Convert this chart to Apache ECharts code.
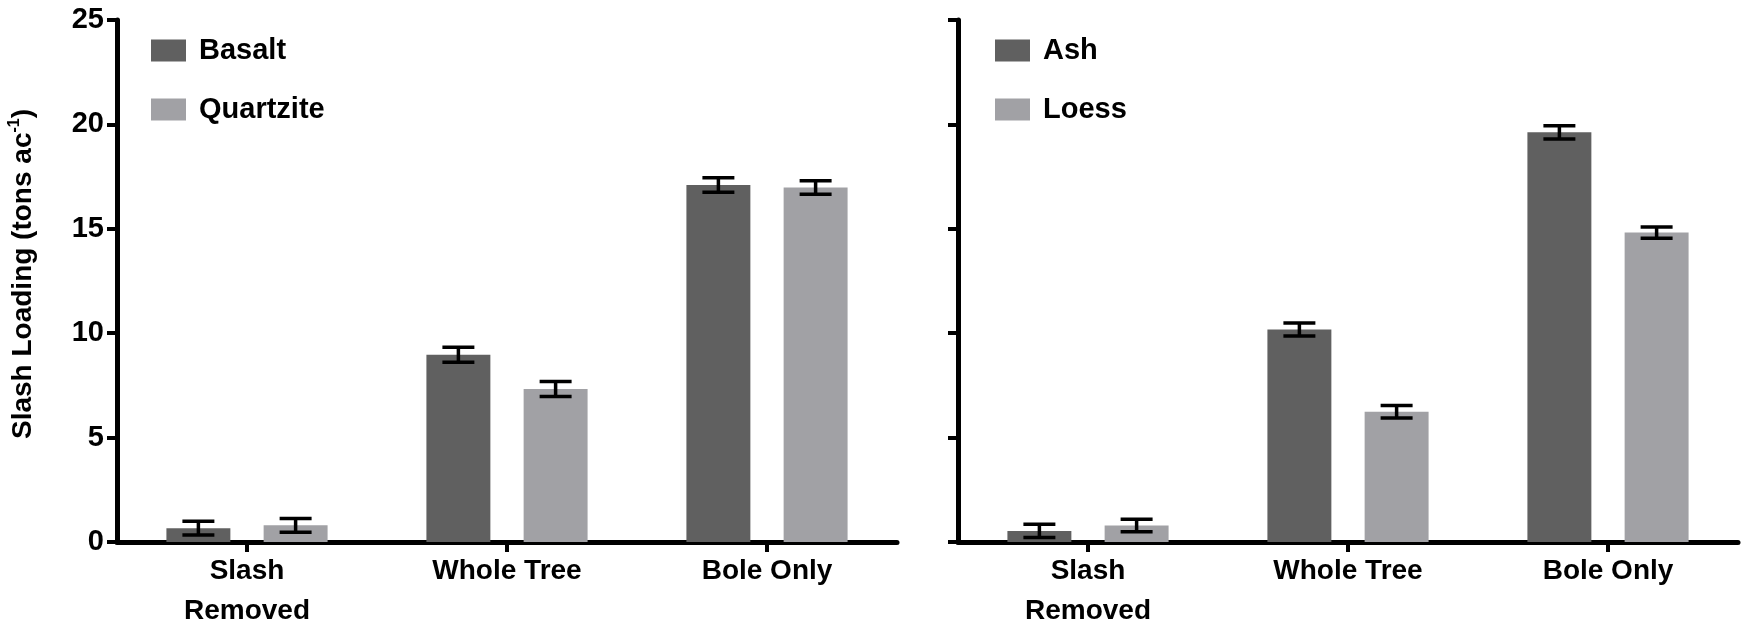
<!DOCTYPE html>
<html>
<head>
<meta charset="utf-8">
<script src="https://cdn.jsdelivr.net/npm/echarts@6/dist/echarts.min.js"></script>
<style>html,body{margin:0;padding:0;background:#fff;}#c{width:1748px;height:624px;}</style>
</head>
<body>
<div id="c"></div>
<script>
// ---- data ----
const categories = ['Slash\nRemoved', 'Whole Tree', 'Bole Only'];
const yTicks = [0, 5, 10, 15, 20, 25];
const basalt = [0.66, 8.97, 17.10];
const basaltErr = [0.33, 0.36, 0.35];
const quartzite = [0.80, 7.33, 16.98];
const quartziteErr = [0.33, 0.36, 0.32];
const ash = [0.53, 10.18, 19.62];
const ashErr = [0.32, 0.31, 0.32];
const loess = [0.79, 6.24, 14.82];
const loessErr = [0.30, 0.30, 0.27];

const DARK = '#606060', LIGHT = '#a1a1a5';
const FONT = 'Liberation Sans, Arial, sans-serif';
const BAR_W = 0.246, BAR_GAP = 0.52;
const OFF = BAR_W * (1 + BAR_GAP) / 2;

function errSeries(name, vals, errs, gi, side) {
  return {
    type: 'custom', name: name + ' err', xAxisIndex: gi, yAxisIndex: gi, z: 5,
    clip: false, silent: true,
    data: vals.map((v, i) => [i, v, errs[i]]),
    renderItem: function (params, api) {
      const c = api.value(0), v = api.value(1), e = api.value(2);
      const t = api.coord([c, v + e]);
      const b = api.coord([c, v - e]);
      const band = api.size([1, 0])[0];
      const x = t[0] + side * band * OFF;
      const hw = band * BAR_W / 4;
      const st = { stroke: '#000', lineWidth: 3.5 };
      return { type: 'group', children: [
        { type: 'line', shape: { x1: x, y1: t[1], x2: x, y2: b[1] }, style: st },
        { type: 'line', shape: { x1: x - hw, y1: t[1], x2: x + hw, y2: t[1] }, style: st },
        { type: 'line', shape: { x1: x - hw, y1: b[1], x2: x + hw, y2: b[1] }, style: st }
      ]};
    }
  };
}

function barSeries(name, vals, color, gi) {
  return {
    type: 'bar', name: name, xAxisIndex: gi, yAxisIndex: gi,
    data: vals, barWidth: (BAR_W * 100) + '%', barGap: (BAR_GAP * 100) + '%',
    itemStyle: { color: color }, z: 2
  };
}

const axisLineStyle = { show: true, lineStyle: { color: '#000', width: 5 } };

function xAxis(gi) {
  return {
    type: 'category', gridIndex: gi, data: categories,
    axisLine: axisLineStyle,
    axisTick: { show: true, alignWithLabel: true, length: 10, lineStyle: { color: '#000', width: 4 } },
    axisLabel: { color: '#000', fontFamily: FONT, fontWeight: 'bold', fontSize: 28, lineHeight: 40, margin: 9, interval: 0 }
  };
}
function yAxis(gi, labels) {
  const a = {
    type: 'value', gridIndex: gi, min: yTicks[0], max: yTicks[yTicks.length - 1], interval: 5,
    axisLine: axisLineStyle,
    axisTick: { show: true, length: 10, lineStyle: { color: '#000', width: 4 } },
    splitLine: { show: false },
    axisLabel: { show: labels, color: '#000', fontFamily: FONT, fontWeight: 'bold', fontSize: 29, margin: 13 }
  };
  if (labels) {
    a.name = '{m|Slash Loading (tons ac}{s|-1}{m|)}';
    a.nameLocation = 'middle';
    a.nameRotate = 90;
    a.nameGap = 78;
    a.nameTextStyle = {
      padding: [0, 0, 0, 14],
      rich: {
        m: { fontFamily: FONT, fontWeight: 'bold', fontSize: 28, color: '#000', lineHeight: 32 },
        s: { fontFamily: FONT, fontWeight: 'bold', fontSize: 16, color: '#000', lineHeight: 32, verticalAlign: 'top' }
      }
    };
  }
  return a;
}

const legendCommon = {
  orient: 'vertical', itemWidth: 35, itemHeight: 22, itemGap: 30,
  icon: 'rect',
  textStyle: { color: '#000', fontFamily: FONT, fontWeight: 'bold', fontSize: 29, padding: [0, 0, 0, 8] },
  selectedMode: false
};

const chart = echarts.init(document.getElementById('c'), null, { renderer: 'canvas' });
chart.setOption({
  backgroundColor: '#fff',
  animation: false,
  legend: [
    Object.assign({}, legendCommon, { left: 146, top: 31, data: ['Basalt', 'Quartzite'] }),
    Object.assign({}, legendCommon, { left: 990, top: 31, data: ['Ash', 'Loess'] })
  ],
  grid: [
    { left: 117, top: 20, width: 780, height: 522, containLabel: false, outerBoundsMode: 'none' },
    { left: 958, top: 20, width: 780, height: 522, containLabel: false, outerBoundsMode: 'none' }
  ],
  xAxis: [xAxis(0), xAxis(1)],
  yAxis: [yAxis(0, true), yAxis(1, false)],
  series: [
    barSeries('Basalt', basalt, DARK, 0),
    barSeries('Quartzite', quartzite, LIGHT, 0),
    barSeries('Ash', ash, DARK, 1),
    barSeries('Loess', loess, LIGHT, 1),
    errSeries('Basalt', basalt, basaltErr, 0, -1),
    errSeries('Quartzite', quartzite, quartziteErr, 0, 1),
    errSeries('Ash', ash, ashErr, 1, -1),
    errSeries('Loess', loess, loessErr, 1, 1)
  ]
});
</script>
</body>
</html>
